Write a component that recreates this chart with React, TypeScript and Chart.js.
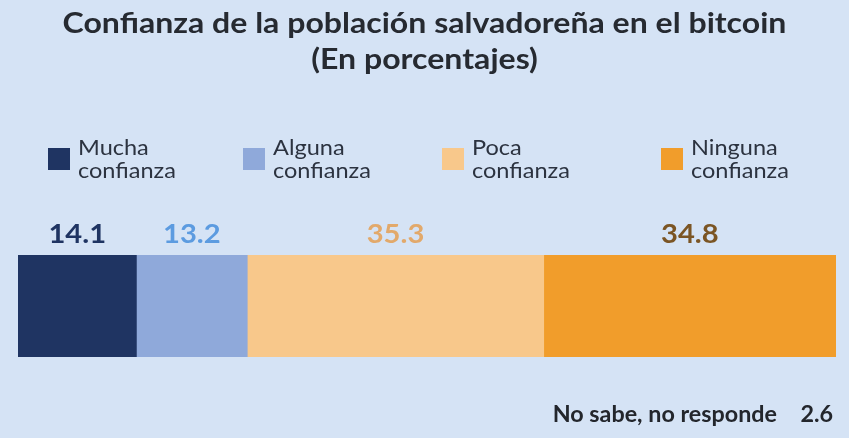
import { useEffect, useRef } from 'react';
import { Chart, registerables } from 'chart.js';

Chart.register(...registerables);

const categories = ['Mucha confianza', 'Alguna confianza', 'Poca confianza', 'Ninguna confianza'];
const legendLines = [
  ['Mucha', 'confianza'],
  ['Alguna', 'confianza'],
  ['Poca', 'confianza'],
  ['Ninguna', 'confianza'],
];
const values = [14.1, 13.2, 35.3, 34.8];
const noResponseLabel = 'No sabe, no responde';
const noResponseValue = 2.6;
const titleLines = ['Confianza de la población salvadoreña en el bitcoin', '(En porcentajes)'];

const barColors = ['#1f3462', '#8fa9da', '#f8c88b', '#f19d2b'];
const valueColors = ['#1f3462', '#5c9be0', '#e2a96b', '#7b5524'];
const legendX = [48, 243, 442, 661];
const bg = '#d5e3f5';
const font = 'Lato, "Open Sans", sans-serif';

// the source image is a bit wider than the type, so stretch text horizontally
function stretchText(ctx: CanvasRenderingContext2D, text: string, x: number, y: number, sx: number) {
  ctx.save();
  ctx.translate(x, y);
  ctx.scale(sx, 1);
  ctx.fillText(text, 0, 0);
  ctx.restore();
}

const decorPlugin = {
  id: 'decor',
  afterDraw(chart: Chart) {
    const ctx = chart.ctx;
    const w = chart.width;
    ctx.save();

    // title
    ctx.fillStyle = '#262a31';
    ctx.font = `bold 28px ${font}`;
    ctx.textAlign = 'center';
    ctx.textBaseline = 'alphabetic';
    stretchText(ctx, titleLines[0], w / 2, 33, 1.145);
    stretchText(ctx, titleLines[1], w / 2, 69, 1.145);

    // legend
    ctx.textAlign = 'left';
    ctx.font = `21px ${font}`;
    legendLines.forEach((lines, i) => {
      ctx.fillStyle = barColors[i];
      ctx.fillRect(legendX[i], 148, 22, 22);
      ctx.fillStyle = '#2c3340';
      stretchText(ctx, lines[0], legendX[i] + 30, 155, 1.12);
      stretchText(ctx, lines[1], legendX[i] + 30, 178, 1.12);
    });

    // value labels above segments
    ctx.textAlign = 'center';
    ctx.font = `bold 27px ${font}`;
    chart.data.datasets.forEach((ds, i) => {
      const bar: any = chart.getDatasetMeta(i).data[0];
      if (!bar) return;
      const cx = (bar.x + bar.base) / 2;
      ctx.fillStyle = valueColors[i];
      stretchText(ctx, String(ds.data[0]), cx, 243, 1.08);
    });

    // footer
    ctx.textAlign = 'right';
    ctx.font = `bold 22px ${font}`;
    ctx.fillStyle = '#23262c';
    stretchText(ctx, String(noResponseValue), 833, 422, 1.06);
    stretchText(ctx, noResponseLabel, 777, 422, 1.06);

    ctx.restore();
  },
};

export default function App() {
  const canvasRef = useRef<HTMLCanvasElement>(null);
  const chartRef = useRef<Chart | null>(null);

  useEffect(() => {
    if (!canvasRef.current) return;
    if (chartRef.current) chartRef.current.destroy();
    const ctx = canvasRef.current.getContext('2d');
    if (!ctx) return;

    const total = values.reduce((s, v) => s + v, 0);

    chartRef.current = new Chart(ctx, {
      type: 'bar',
      data: {
        labels: [''],
        datasets: categories.map((c, i) => ({
          label: c,
          data: [values[i]],
          backgroundColor: barColors[i],
          borderWidth: 0,
          barPercentage: 1,
          categoryPercentage: 1,
        })),
      },
      options: {
        indexAxis: 'y',
        animation: false,
        responsive: true,
        maintainAspectRatio: false,
        layout: { padding: { left: 18, right: 13, top: 255, bottom: 81 } },
        scales: {
          x: { stacked: true, display: false, min: 0, max: total },
          y: { stacked: true, display: false },
        },
        plugins: {
          legend: { display: false },
          tooltip: { enabled: false },
          title: { display: false },
        },
      },
      plugins: [decorPlugin],
    });

    return () => {
      if (chartRef.current) {
        chartRef.current.destroy();
        chartRef.current = null;
      }
    };
  }, []);

  return (
    <div style={{ position: 'absolute', left: 0, top: 0, width: 849, height: 438, background: bg }}>
      <canvas ref={canvasRef} />
    </div>
  );
}
